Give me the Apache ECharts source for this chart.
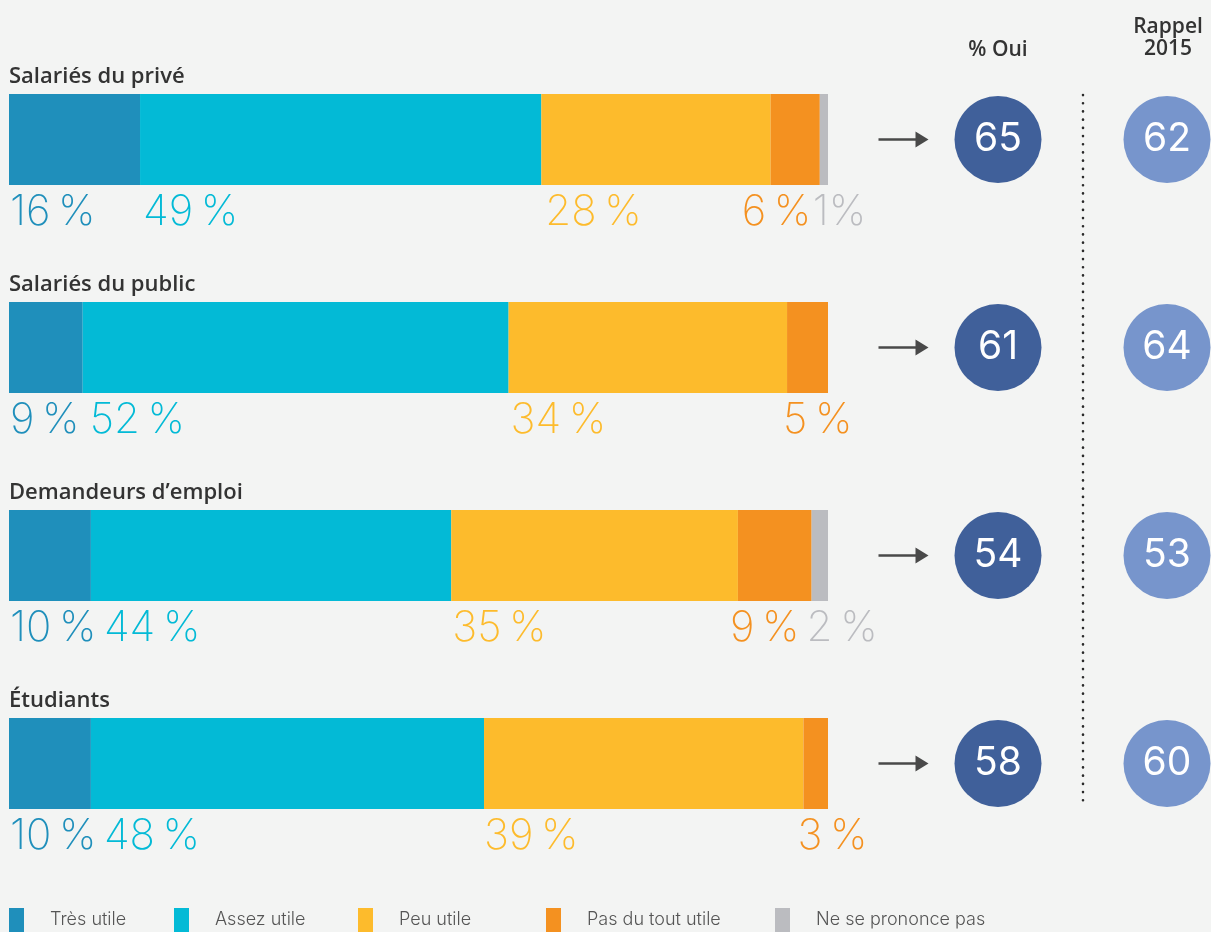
<!DOCTYPE html>
<html>
<head>
<meta charset="utf-8">
<script src="https://cdn.jsdelivr.net/npm/echarts@6/dist/echarts.min.js"></script>
<style>
  html, body { margin: 0; padding: 0; background: #f3f4f3; }
  #chart { width: 1211px; height: 932px; }
</style>
</head>
<body>
<div id="chart"></div>
<script>
// Survey groups and answer categories
const groups = ['Salariés du privé', 'Salariés du public', 'Demandeurs d\u2019emploi', 'Étudiants'];
const answers = ['Très utile', 'Assez utile', 'Peu utile', 'Pas du tout utile', 'Ne se prononce pas'];

// Share of answers per group (%)
const tresUtile  = [16, 9, 10, 10];
const assezUtile = [49, 52, 44, 48];
const peuUtile   = [28, 34, 35, 39];
const pasDuTout  = [6, 5, 9, 3];
const nspp       = [1, 0, 2, 0];

// "% Oui" now and the 2015 reminder
const ouiPct     = [65, 61, 54, 58];
const rappel2015 = [62, 64, 53, 60];

// Column headers on the right
const ouiHeader = '% Oui';
const rappelHeader = 'Rappel\n2015';

const seriesValues = [tresUtile, assezUtile, peuUtile, pasDuTout, nspp];
const colors = ['#1f8fbb', '#03bad6', '#fdbb2c', '#f49120', '#bbbcc0'];

// Horizontal nudges of the percentage labels so neighbouring labels do not collide
const labelShift = [
  [1, 1, 1, 1],
  [3, 7, 13, 13],
  [4, 2, 1, 0],
  [-29, -4, -8, -6],
  [-7, 0, -5, 0]
];

const numFont = 'Inter';
const textFont = 'Open Sans';

const barSeries = answers.map((name, s) => ({
  name,
  type: 'bar',
  stack: 'total',
  xAxisIndex: 0,
  yAxisIndex: 0,
  barWidth: 91,
  itemStyle: { color: colors[s] },
  emphasis: { disabled: true },
  data: seriesValues[s].map((v, i) => ({
    value: v,
    label: {
      show: v > 0,
      position: [labelShift[s][i], '100%']
    }
  })),
  label: {
    align: 'left',
    verticalAlign: 'top',
    offset: [0, 5],
    fontFamily: numFont,
    fontWeight: 200,
    fontSize: 42,
    lineHeight: 44,
    color: colors[s],
    formatter: p => p.value + (p.value < 2 ? '%' : '\u2009%')
  }
}));

const slots = ['arrow', 'oui', 'sep', 'rappel'];

const circleSeries = (slot, values, color) => ({
  type: 'scatter',
  xAxisIndex: 1,
  yAxisIndex: 1,
  symbol: 'circle',
  symbolSize: 87,
  itemStyle: { color, opacity: 1 },
  emphasis: { disabled: true },
  data: groups.map((g, i) => [slot, g, values[i]]),
  label: {
    show: true,
    position: 'inside',
    formatter: p => String(p.value[2]),
    color: '#ffffff',
    fontFamily: numFont,
    fontSize: 39,
    fontWeight: 400
  },
  z: 3
});

const legends = answers.map((name, i) => ({
  data: [name],
  left: [9, 174, 358, 546, 775][i],
  top: 908,
  padding: 0,
  icon: 'rect',
  itemWidth: 15,
  itemHeight: 24,
  selectedMode: false,
  textStyle: {
    fontFamily: 'Inter',
    fontWeight: 300,
    fontSize: 18,
    color: '#555',
    padding: [3, 0, 0, 21]
  }
}));

const option = {
  backgroundColor: '#f3f4f3',
  animation: false,
  legend: legends,
  grid: [
    { left: 9, width: 819, top: 35.5, height: 832 },
    { left: 871.25, width: 338, top: 35.5, height: 832 }
  ],
  xAxis: [
    { type: 'value', gridIndex: 0, min: 0, max: 100, show: false },
    { type: 'category', gridIndex: 1, data: slots, show: false }
  ],
  yAxis: [
    {
      type: 'category', gridIndex: 0, data: groups, inverse: true,
      axisLine: { show: false }, axisTick: { show: false }, splitLine: { show: false },
      axisLabel: {
        inside: true,
        margin: 0,
        align: 'left',
        verticalAlign: 'middle',
        lineHeight: 21,
        // group title sits above its bar: pad with empty lines below it
        formatter: v => v + '\n \n \n \n \n \n ',
        fontFamily: textFont,
        fontWeight: 600,
        fontSize: 22,
        color: '#333'
      },
      z: 5
    },
    { type: 'category', gridIndex: 1, data: groups, inverse: true, show: false }
  ],
  series: [
    ...barSeries,
    {
      type: 'scatter',
      xAxisIndex: 1,
      yAxisIndex: 1,
      symbol: 'path://M0,6.8 L37,6.8 L37,0 L50,8 L37,16 L37,9.2 L0,9.2 Z',
      symbolKeepAspect: false,
      symbolSize: [50, 16],
      symbolOffset: [-10, 0],
      itemStyle: { color: '#1e1e1e' },
      emphasis: { disabled: true },
      data: groups.map(g => ['arrow', g])
    },
    circleSeries('oui', ouiPct, '#40609a'),
    circleSeries('rappel', rappel2015, '#7795cc')
  ],
  graphic: [
    {
      type: 'line',
      shape: { x1: 1083, y1: 95, x2: 1083, y2: 808 },
      style: { stroke: '#2a2a2a', lineWidth: 2.6, lineDash: [0.1, 8.1], lineCap: 'round' },
      silent: true
    },
    {
      type: 'text',
      x: 998, y: 50,
      style: {
        text: ouiHeader, fill: '#333', font: '600 21px "Open Sans"',
        textAlign: 'center', textVerticalAlign: 'middle'
      }
    },
    {
      type: 'text',
      x: 1168, y: 38,
      style: {
        text: rappelHeader, fill: '#333', font: '600 21px "Open Sans"', lineHeight: 22,
        textAlign: 'center', textVerticalAlign: 'middle'
      }
    }
  ]
};

const chart = echarts.init(document.getElementById('chart'), null, { renderer: 'canvas' });
chart.setOption(option);
</script>
</body>
</html>
